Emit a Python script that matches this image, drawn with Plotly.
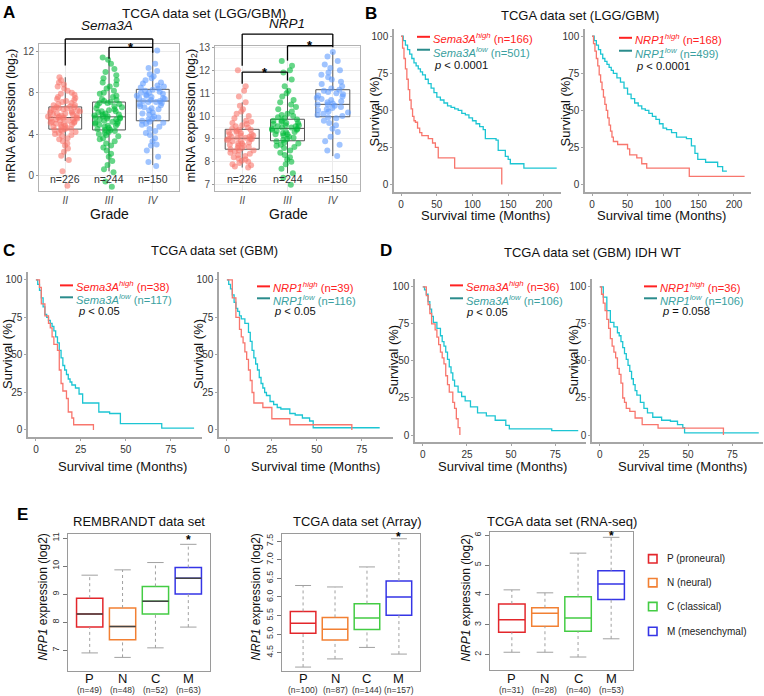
import plotly.graph_objects as go

W, H = 764, 696
FONT = "Liberation Sans, Arial, sans-serif"

# ---------------- panel A: expression by grade ----------------
grades = ["II", "III", "IV"]
grade_n = [226, 244, 150]
grade_colors = ["#f8766d", "#00ba38", "#619cff"]

sema_ii = [-1.0, 0.4, 1.5, 1.9, 2.3, 2.6, 2.9, 3.1, 3.3, 3.5, 3.6, 3.8, 3.9, 4.0, 4.1, 4.2,
           4.3, 4.4, 4.4, 4.5, 4.5, 4.6, 4.7, 4.7, 4.8, 4.9, 4.9, 5.0, 5.0, 5.1, 5.1, 5.2,
           5.2, 5.3, 5.3, 5.4, 5.4, 5.5, 5.5, 5.5, 5.6, 5.6, 5.6, 5.7, 5.7, 5.8, 5.8, 5.9,
           5.9, 6.0, 6.0, 6.1, 6.1, 6.2, 6.2, 6.3, 6.3, 6.4, 6.4, 6.5, 6.5, 6.6, 6.6, 6.7,
           6.8, 6.8, 6.9, 7.0, 7.1, 7.2, 7.3, 7.4, 7.5, 7.6, 7.8, 7.9, 8.0, 8.2, 8.4, 8.6,
           8.8, 9.0, 9.2, 9.5]
sema_iii = [-1.1, -0.6, 0.3, 0.6, 1.0, 1.4, 1.8, 2.1, 2.4, 2.7, 2.9, 3.1, 3.3, 3.5, 3.6,
            3.8, 3.9, 4.0, 4.1, 4.2, 4.3, 4.4, 4.4, 4.5, 4.6, 4.7, 4.8, 4.8, 4.9, 5.0, 5.0,
            5.1, 5.2, 5.2, 5.3, 5.4, 5.4, 5.5, 5.5, 5.6, 5.6, 5.7, 5.7, 5.8, 5.9, 5.9, 6.0,
            6.1, 6.2, 6.2, 6.3, 6.4, 6.5, 6.6, 6.7, 6.8, 6.9, 7.0, 7.0, 7.1, 7.2, 7.3, 7.4,
            7.6, 7.7, 7.9, 8.0, 8.2, 8.4, 8.6, 8.8, 9.0, 9.2, 9.4, 9.7, 10.0, 10.3, 10.8,
            11.2, 11.4]
sema_iv = [0.9, 1.3, 1.8, 2.4, 2.9, 3.0, 3.3, 3.6, 3.9, 4.1, 4.3, 4.5, 4.7, 4.9, 5.0, 5.1,
           5.2, 5.3, 5.4, 5.5, 5.6, 5.7, 5.9, 6.0, 6.1, 6.3, 6.4, 6.5, 6.6, 6.7, 6.8, 6.9,
           7.0, 7.1, 7.1, 7.2, 7.2, 7.3, 7.4, 7.5, 7.5, 7.6, 7.7, 7.7, 7.8, 7.9, 8.0, 8.0,
           8.1, 8.2, 8.3, 8.4, 8.5, 8.6, 8.7, 8.9, 9.0, 9.2, 9.4, 9.6, 9.8, 10.1, 10.4,
           10.8, 12.1]
sema_q1 = [4.48, 4.40, 5.29]
sema_med = [5.60, 5.67, 7.20]
sema_q3 = [6.63, 7.10, 8.33]
sema_lo = [1.4, 0.4, 1.0]
sema_hi = [9.5, 11.2, 12.1]

nrp1_ii = [7.75, 7.8, 7.85, 7.9, 7.95, 8.0, 8.05, 8.1, 8.15, 8.2, 8.25, 8.3, 8.35, 8.4,
           8.45, 8.5, 8.5, 8.55, 8.6, 8.6, 8.65, 8.7, 8.7, 8.75, 8.8, 8.8, 8.85, 8.9, 8.9,
           8.95, 9.0, 9.0, 9.0, 9.05, 9.05, 9.1, 9.1, 9.15, 9.15, 9.2, 9.2, 9.25, 9.3, 9.3,
           9.35, 9.4, 9.4, 9.45, 9.5, 9.55, 9.6, 9.65, 9.7, 9.75, 9.8, 9.9, 10.0, 10.1,
           10.2, 10.3, 10.45, 10.6, 10.85, 11.1, 11.3, 12.0]
nrp1_iii = [7.0, 7.3, 7.5, 7.7, 7.9, 8.0, 8.1, 8.2, 8.3, 8.4, 8.5, 8.6, 8.65, 8.7, 8.75,
            8.8, 8.85, 8.9, 8.95, 9.0, 9.05, 9.1, 9.15, 9.2, 9.2, 9.25, 9.3, 9.3, 9.35, 9.4,
            9.4, 9.45, 9.45, 9.5, 9.5, 9.55, 9.55, 9.6, 9.6, 9.65, 9.7, 9.7, 9.75, 9.8,
            9.8, 9.85, 9.9, 9.95, 10.0, 10.05, 10.1, 10.2, 10.3, 10.4, 10.5, 10.6, 10.7,
            10.85, 11.0, 11.1, 11.3, 11.6, 11.9, 12.0, 12.2, 12.4]
nrp1_iv = [8.25, 8.5, 8.75, 8.9, 9.1, 9.3, 9.45, 9.6, 9.7, 9.8, 9.9, 9.95, 10.0, 10.05,
           10.1, 10.15, 10.2, 10.25, 10.3, 10.35, 10.4, 10.45, 10.5, 10.5, 10.55, 10.6,
           10.65, 10.7, 10.75, 10.8, 10.85, 10.9, 10.95, 11.0, 11.05, 11.1, 11.15, 11.2,
           11.3, 11.4, 11.5, 11.6, 11.7, 11.8, 11.9, 12.0, 12.1, 12.25, 12.4, 12.6, 12.8]
nrp1_q1 = [8.55, 8.92, 9.97]
nrp1_med = [9.03, 9.46, 10.51]
nrp1_q3 = [9.42, 9.86, 11.15]
nrp1_lo = [7.75, 7.5, 8.25]
nrp1_hi = [10.6, 11.2, 12.8]

# ---------------- panels B-D: Kaplan-Meier steps ----------------
b_sema_high_t = [0, 2, 4, 6, 8, 10, 12, 14, 16, 18, 20, 23, 26, 29, 38, 44, 48, 52, 75, 141]
b_sema_high_s = [100, 92, 85, 78, 71, 64, 57, 51, 46, 43, 42, 38, 35, 33, 31, 28, 25, 18, 11, 0]
b_sema_low_t = [0, 3, 6, 9, 12, 15, 18, 21, 24, 27, 30, 34, 38, 42, 46, 50, 55, 60, 65, 70,
                75, 80, 85, 90, 95, 100, 105, 110, 115, 118, 133, 136, 146, 150, 153, 172, 218]
b_sema_low_s = [100, 97, 94, 91, 88, 85, 82, 80, 78, 76, 74, 71, 68, 65, 62, 59, 57, 55, 53, 52,
                51, 50, 48, 47, 45, 43, 41, 39, 37, 31, 30, 23, 19, 17, 14, 11, 11]
b_nrp1_high_t = [0, 2, 4, 6, 8, 10, 12, 14, 16, 18, 20, 22, 24, 26, 28, 30, 36, 50, 53, 63, 70,
                 77, 137, 215]
b_nrp1_high_s = [100, 95, 90, 85, 80, 74, 69, 64, 59, 54, 50, 45, 40, 36, 32, 29, 27, 24, 20, 18,
                 14, 11, 5.5, 5.5]
b_nrp1_low_t = [0, 3, 6, 9, 12, 15, 18, 21, 24, 27, 30, 35, 40, 45, 50, 55, 60, 65, 70, 75, 80,
                85, 90, 95, 100, 105, 112, 119, 133, 140, 145, 149, 160, 177, 184, 190]
b_nrp1_low_s = [100, 97, 94, 91, 88, 85, 83, 81, 79, 77, 75, 72, 69, 65, 61, 58, 55, 53, 51, 50,
                48, 46, 44, 41, 38, 37, 35, 32, 31, 26, 21, 17, 15, 12, 9, 9]

c_sema_high_t = [0, 2, 3, 5, 7, 8, 9, 10, 12, 13, 14, 15, 17, 18, 20, 21, 32]
c_sema_high_s = [100, 95, 84, 76, 71, 68, 62, 57, 53, 40, 31, 26, 21, 12, 8, 3.5, 0]
c_sema_low_t = [0, 1, 2, 3, 4, 5, 6, 7, 8, 9, 10, 11, 12, 13, 14, 15, 16, 17, 18, 19, 20, 22,
                24, 26, 35, 41, 47, 70, 88]
c_sema_low_s = [100, 97, 93, 88, 82, 77, 75, 73, 71, 69, 66, 62, 58, 53, 48, 43, 40, 37, 34, 32,
                30, 28, 24, 18, 12, 11, 4.2, 1.3, 1.3]
c_nrp1_high_t = [0, 3, 5, 7, 8, 9, 10, 11, 12, 13, 14, 15, 20, 25, 35, 69.5]
c_nrp1_high_s = [100, 88, 75, 67, 62, 58, 52, 47, 40, 33, 25, 18, 15, 7.5, 3.5, 0]
c_nrp1_low_t = [0, 1, 2, 3, 4, 5, 6, 7, 8, 10, 12, 13, 14, 15, 16, 17, 18, 19, 20, 21, 22, 24,
                26, 28, 30, 35, 38, 42, 46, 48, 85]
c_nrp1_low_s = [100, 97, 94, 90, 85, 81, 79, 76, 74, 71, 65, 59, 53, 48, 44, 40, 35, 31, 28, 25,
                23, 19, 17, 15, 14, 11, 10, 8, 6, 1.5, 1.5]

d_sema_high_t = [0, 2, 3, 4, 5, 7, 8, 9, 10, 11, 12, 13, 14, 15, 17, 18, 19, 20, 21]
d_sema_high_s = [100, 94, 88, 82, 75, 71, 66, 61, 56, 52, 48, 40, 34, 29, 22, 18, 11, 5, 0]
d_sema_low_t = [0, 1, 2, 3, 4, 5, 6, 8, 10, 11, 12, 13, 14, 15, 16, 17, 18, 20, 22, 24, 27, 31,
                36, 41, 47, 49, 73, 88]
d_sema_low_s = [100, 98, 95, 90, 85, 80, 76, 72, 67, 63, 60, 56, 51, 46, 42, 37, 33, 29, 26, 23,
                19, 15, 13, 10, 6.5, 4.2, 3, 3]
d_nrp1_high_t = [0, 1, 2, 3, 4, 5, 6, 7, 8, 9, 10, 11, 12, 13, 14, 15, 17, 20, 24, 33, 70]
d_nrp1_high_s = [100, 95, 89, 84, 78, 72, 65, 60, 56, 52, 45, 41, 35, 25, 22, 18, 16, 11.5, 7,
                 4.7, 0]
d_nrp1_low_t = [0, 2, 4, 6, 8, 10, 11, 12, 13, 14, 15, 16, 17, 18, 19, 20, 21, 23, 25, 27, 30,
                35, 40, 44, 47, 48, 90]
d_nrp1_low_s = [100, 93, 84, 76, 73, 69, 67, 63, 59, 55, 51, 47, 43, 38, 34, 30, 27, 22, 18, 15,
                12, 10, 9.3, 7, 5, 1.5, 1.5]

# ---------------- panel E: subtype box plots ----------------
subtypes = ["P", "N", "C", "M"]
subtype_names = ["P (proneural)", "N (neural)", "C (classical)", "M (mesenchymal)"]
subtype_colors = ["#e3262b", "#f28033", "#44cc44", "#3535e6"]

remb_n = [49, 48, 52, 63]
remb_q1 = [7.83, 7.38, 8.30, 9.01]
remb_med = [8.30, 7.85, 8.75, 9.57]
remb_q3 = [8.86, 8.51, 9.28, 9.95]
remb_lo = [6.91, 6.75, 7.09, 7.83]
remb_hi = [9.68, 9.87, 10.13, 10.78]

arr_n = [100, 87, 144, 157]
arr_q1 = [5.02, 4.84, 5.12, 5.51]
arr_med = [5.29, 5.13, 5.43, 6.00]
arr_q3 = [5.61, 5.45, 5.82, 6.43]
arr_lo = [4.11, 4.33, 4.64, 4.46]
arr_hi = [6.31, 6.27, 6.81, 7.57]

rna_n = [31, 28, 40, 53]
rna_q1 = [2.75, 2.95, 2.78, 3.85]
rna_med = [3.17, 3.39, 3.23, 4.37]
rna_q3 = [3.70, 3.57, 3.94, 4.81]
rna_lo = [2.08, 2.08, 1.92, 2.53]
rna_hi = [4.17, 4.07, 5.40, 5.93]


def xr_(n):
    return "x" if n == 1 else f"x{n}"


def yr_(n):
    return "y" if n == 1 else f"y{n}"


def pxx(v):
    return v / W


def pxy(v):
    return 1 - v / H


fig = go.Figure()
layout_axes = {}


def set_axes(n, xpx, ypx, xrange, yrange, xkw, ykw):
    xname = "xaxis" if n == 1 else f"xaxis{n}"
    yname = "yaxis" if n == 1 else f"yaxis{n}"
    layout_axes[xname] = dict(domain=[pxx(xpx[0]), pxx(xpx[1])], range=xrange,
                              anchor=yr_(n), zeroline=False, **xkw)
    layout_axes[yname] = dict(domain=[pxy(ypx[1]), pxy(ypx[0])], range=yrange,
                              anchor=xr_(n), zeroline=False, **ykw)


annotations = []
shapes = []


def ann(text, x, y, size=12, color="#111", angle=0, xanchor="center", yanchor="middle",
        xref="paper", yref="paper"):
    if xref == "paper":
        x = pxx(x)
    if yref == "paper":
        y = pxy(y)
    annotations.append(dict(text=text, x=x, y=y, xref=xref, yref=yref, showarrow=False,
                            textangle=angle, xanchor=xanchor, yanchor=yanchor,
                            font=dict(size=size, color=color, family=FONT)))


# ---------- panel A ----------
a_xrange = [-0.6, 2.6]
gg_x = dict(tickvals=[0, 1, 2], ticktext=[f"<i>{g}</i>" for g in grades], showgrid=True,
            gridcolor="#ebebeb", showline=True, mirror=True, linecolor="#b3b3b3",
            ticks="", tickfont=dict(size=10, color="#4d4d4d", family=FONT))


def gg_y(dt):
    return dict(dtick=dt, showgrid=True, gridcolor="#ebebeb", showline=True, mirror=True,
                linecolor="#b3b3b3", ticks="outside", ticklen=2, tickcolor="#999",
                minor=dict(dtick=dt / 2, showgrid=True, gridcolor="#f4f4f4"),
                tickfont=dict(size=10, color="#4d4d4d", family=FONT))


def grade_panel(n, pts, q1, med, q3, lo, hi, n_y):
    for k in range(3):
        fig.add_trace(go.Box(x=[k], q1=[q1[k]], median=[med[k]], q3=[q3[k]],
                             lowerfence=[lo[k]], upperfence=[hi[k]], width=0.75,
                             whiskerwidth=0, fillcolor="rgba(0,0,0,0)",
                             line=dict(color="#555", width=1), boxpoints=False,
                             xaxis=xr_(n), yaxis=yr_(n), showlegend=False))
        fig.add_trace(go.Box(x=[k] * len(pts[k]), y=pts[k], boxpoints="all", jitter=1,
                             pointpos=0, width=0.8, fillcolor="rgba(0,0,0,0)",
                             line=dict(width=0, color="rgba(0,0,0,0)"),
                             marker=dict(color=grade_colors[k], size=6, opacity=0.6),
                             xaxis=xr_(n), yaxis=yr_(n), showlegend=False))
        ann(f"n={grade_n[k]}", k, n_y, size=10.5, color="#333", xref=xr_(n), yref=yr_(n))


sema_yrange = [-1.5, 12.74]
nrp1_yrange = [6.73, 13.07]
set_axes(1, (39, 179), (40, 188), a_xrange, sema_yrange, gg_x, gg_y(4))
set_axes(2, (215, 360), (42, 188), a_xrange, nrp1_yrange, gg_x, gg_y(1))
grade_panel(1, [sema_ii, sema_iii, sema_iv], sema_q1, sema_med, sema_q3, sema_lo, sema_hi, -0.3)
grade_panel(2, [nrp1_ii, nrp1_iii, nrp1_iv], nrp1_q1, nrp1_med, nrp1_q3, nrp1_lo, nrp1_hi, 7.27)


def brackets(n, xrange, yrange, items):
    fx = lambda v: (v - xrange[0]) / (xrange[1] - xrange[0])
    fy = lambda v: (v - yrange[0]) / (yrange[1] - yrange[0])
    xref, yref = xr_(n) + " domain", yr_(n) + " domain"
    for a, b, top, la, lb in items:
        for x0, y0, x1, y1 in [(a, la, a, top), (a, top, b, top), (b, top, b, lb)]:
            shapes.append(dict(type="line", xref=xref, yref=yref, x0=fx(x0), y0=fy(y0),
                               x1=fx(x1), y1=fy(y1), line=dict(color="black", width=1.3)))
        ann("<b>*</b>", (a + b) / 2, top, size=13, color="black", xref=xr_(n), yref=yr_(n))


brackets(1, a_xrange, sema_yrange, [(0, 2, 13.2, 10.63, 11.86), (1, 2, 12.4, 11.28, 12.4)])
brackets(2, a_xrange, nrp1_yrange, [(0, 2, 13.58, 12.2, 13.0), (1, 2, 13.07, 12.42, 13.07),
                                    (0, 1, 11.92, 11.41, 11.55)])

ann("<b>A</b>", 1, 9, size=17, color="black", xanchor="left")
ann("TCGA data set (LGG/GBM)", 204, 10, size=13.5)
ann("<i>Sema3A</i>", 107, 22, size=13.5)
ann("<i>NRP1</i>", 287, 20, size=13.5)
ann("Grade", 109, 211, size=14)
ann("Grade", 288, 211, size=14)
ann("mRNA expression (log<sub>2</sub>)", 12, 113, size=12.5, angle=-90)
ann("mRNA expression (log<sub>2</sub>)", 192, 113, size=12.5, angle=-90)

# ---------- panels B-D ----------
RED_CURVE, CYAN_CURVE = "#f8766d", "#1cc5d3"
RED_TXT, TEAL_TXT, TEAL_LINE = "#ff2222", "#3a9fa0", "#2a8c8c"


def km_axes(dt):
    return dict(dtick=dt, showgrid=False, showline=True, linecolor="#a6a6a6", linewidth=1.5,
                ticks="outside", ticklen=2, tickcolor="#a6a6a6",
                tickfont=dict(size=10, color="#333", family=FONT))


def km_panel(n, xpx, ypx, xrange, dt, hi_t, hi_s, lo_t, lo_s):
    set_axes(n, xpx, ypx, xrange, [-5, 105], km_axes(dt), km_axes(25))
    fig.add_trace(go.Scatter(x=lo_t, y=lo_s, mode="lines", line_shape="hv",
                             line=dict(color=CYAN_CURVE, width=1.3), showlegend=False,
                             xaxis=xr_(n), yaxis=yr_(n)))
    fig.add_trace(go.Scatter(x=hi_t, y=hi_s, mode="lines", line_shape="hv",
                             line=dict(color=RED_CURVE, width=1.3), showlegend=False,
                             xaxis=xr_(n), yaxis=yr_(n)))


def km_legend(gene, n_hi, n_lo, ptxt, x0, y0, y1, yp, xp):
    for y, c in [(y0, RED_TXT), (y1, TEAL_LINE)]:
        shapes.append(dict(type="line", xref="paper", yref="paper", x0=pxx(x0), x1=pxx(x0 + 13),
                           y0=pxy(y), y1=pxy(y), line=dict(color=c, width=2)))
    ann(f"<i>{gene}</i><sup><i>high</i></sup> (n={n_hi})", x0 + 13.5, y0 + 1, size=11.2,
        color=RED_TXT, xanchor="left")
    ann(f"<i>{gene}</i><sup><i>low</i></sup> (n={n_lo})", x0 + 13.5, y1 + 2, size=11.2,
        color=TEAL_TXT, xanchor="left")
    ann(ptxt, xp, yp, size=11.2, color="#111", xanchor="left")


b_range = [-10, 224]
cd_range = [-4.4, 92.4]
km_panel(3, (394, 561), (25, 189), b_range, 50, b_sema_high_t, b_sema_high_s, b_sema_low_t, b_sema_low_s)
km_panel(4, (585, 751), (25, 189), b_range, 50, b_nrp1_high_t, b_nrp1_high_s, b_nrp1_low_t, b_nrp1_low_s)
km_panel(5, (28, 202), (270, 436), cd_range, 25, c_sema_high_t, c_sema_high_s, c_sema_low_t, c_sema_low_s)
km_panel(6, (219, 393), (270, 436), cd_range, 25, c_nrp1_high_t, c_nrp1_high_s, c_nrp1_low_t, c_nrp1_low_s)
km_panel(7, (415, 586), (277, 441), cd_range, 25, d_sema_high_t, d_sema_high_s, d_sema_low_t, d_sema_low_s)
km_panel(8, (592, 763), (277, 441), cd_range, 25, d_nrp1_high_t, d_nrp1_high_s, d_nrp1_low_t, d_nrp1_low_s)

km_legend("Sema3A", 166, 501, "<i>p</i> &lt; 0.0001", 417, 33, 46, 61, 432)
km_legend("NRP1", 168, 499, "<i>p</i> &lt; 0.0001", 619, 34, 47, 62, 634)
km_legend("Sema3A", 38, 117, "<i>p</i> &lt; 0.05", 60, 283, 295, 309, 76)
km_legend("NRP1", 39, 116, "<i>p</i> &lt; 0.05", 257, 284, 296, 309, 272)
km_legend("Sema3A", 36, 106, "<i>p</i> &lt; 0.05", 450, 283, 296, 310, 464)
km_legend("NRP1", 36, 106, "<i>p</i> = 0.058", 644, 284, 296, 309, 660)

ann("<b>B</b>", 363, 10, size=17, color="black", xanchor="left")
ann("TCGA data set (LGG/GBM)", 580, 12, size=13)
ann("<b>C</b>", 1, 248, size=17, color="black", xanchor="left")
ann("TCGA data set (GBM)", 214, 248, size=13)
ann("<b>D</b>", 378, 248, size=17, color="black", xanchor="left")
ann("TCGA data set (GBM) IDH WT", 592, 250, size=13)
for x, y in [(374, 108), (565, 108), (8, 352), (199, 352), (394, 358), (574, 358)]:
    ann("Survival (%)", x, y, size=13, angle=-90)
for x, y in [(485, 213), (661, 213), (123, 465), (315, 465), (502, 465), (682, 465)]:
    ann("Survival time (Months)", x, y, size=13)

# ---------- panel E ----------
e_xrange = [0.34, 4.66]
e_x = dict(tickvals=[1, 2, 3, 4], showticklabels=False, showline=True, mirror=True,
           linecolor="#9a9a9a", ticks="", showgrid=False)


def e_y(tv, fmt):
    return dict(tickvals=tv, tickformat=fmt, showline=True, mirror=True, linecolor="#9a9a9a",
                ticks="outside", ticklen=4, tickcolor="#777", tickangle=-90, showgrid=False,
                tickfont=dict(size=9, color="#333", family=FONT))


def subtype_panel(n, q1, med, q3, lo, hi, counts, dark_median):
    xs = [1, 2, 3, 4]
    wx, wy, cx, cy = [], [], [], []
    for k in range(4):
        wx += [xs[k], xs[k], None, xs[k], xs[k], None]
        wy += [q3[k], hi[k], None, lo[k], q1[k], None]
        cx += [xs[k] - 0.25, xs[k] + 0.25, None, xs[k] - 0.25, xs[k] + 0.25, None]
        cy += [hi[k], hi[k], None, lo[k], lo[k], None]
    fig.add_trace(go.Scatter(x=wx, y=wy, mode="lines", line=dict(color="#a0a0a0", width=1, dash="dot"),
                             showlegend=False, xaxis=xr_(n), yaxis=yr_(n)))
    fig.add_trace(go.Scatter(x=cx, y=cy, mode="lines", line=dict(color="#a0a0a0", width=1),
                             showlegend=False, xaxis=xr_(n), yaxis=yr_(n)))
    for k in range(4):
        fig.add_trace(go.Box(x=[xs[k]], q1=[q1[k]], median=[med[k]], q3=[q3[k]],
                             lowerfence=[q1[k]], upperfence=[q3[k]], width=0.8, whiskerwidth=0,
                             fillcolor="white", line=dict(color=subtype_colors[k], width=1.5),
                             boxpoints=False, showlegend=False, xaxis=xr_(n), yaxis=yr_(n)))
        ann(subtypes[k], xs[k], 678, size=13, color="#111", xref=xr_(n))
        ann(f"(n={counts[k]})", xs[k], 690, size=8.5, color="#333", xref=xr_(n))
    if dark_median:
        mx, my = [], []
        for k in range(4):
            mx += [xs[k] - 0.4, xs[k] + 0.4, None]
            my += [med[k], med[k], None]
        fig.add_trace(go.Scatter(x=mx, y=my, mode="lines", line=dict(color="#444", width=1.5),
                                 showlegend=False, xaxis=xr_(n), yaxis=yr_(n)))


set_axes(9, (68, 210), (533, 671), e_xrange, [6.26, 11.15], e_x, e_y([7, 8, 9, 10, 11], ""))
set_axes(10, (282, 420), (533, 671), e_xrange, [4.0, 7.70], e_x,
         e_y([4.5, 5.0, 5.5, 6.0, 6.5, 7.0, 7.5], ".1f"))
set_axes(11, (490, 633), (531, 670), e_xrange, [1.48, 6.11], e_x, e_y([2, 3, 4, 5, 6], ""))
subtype_panel(9, remb_q1, remb_med, remb_q3, remb_lo, remb_hi, remb_n, True)
subtype_panel(10, arr_q1, arr_med, arr_q3, arr_lo, arr_hi, arr_n, False)
subtype_panel(11, rna_q1, rna_med, rna_q3, rna_lo, rna_hi, rna_n, False)

for n, y in [(9, 539), (10, 536), (11, 535)]:
    ann("<b>*</b>", 4, y, size=12, color="black", xref=xr_(n))

ann("<b>E</b>", 15, 513, size=17, color="black", xanchor="left")
ann("REMBRANDT data set", 139, 520, size=13)
ann("TCGA data set (Array)", 357, 520, size=13)
ann("TCGA data set (RNA-seq)", 562, 520, size=13)
for x in [43, 256, 466]:
    ann("<i>NRP1</i> expression (log2)", x, 597, size=12, angle=-90)

for k, y in enumerate([558, 582, 606, 631]):
    shapes.append(dict(type="rect", xref="paper", yref="paper", x0=pxx(648.5), x1=pxx(657),
                       y0=pxy(y + 4.2), y1=pxy(y - 4.2),
                       line=dict(color=subtype_colors[k], width=1.6)))
    ann(subtype_names[k], 665, y, size=10, color="#222", xanchor="left")

fig.update_layout(width=W, height=H, autosize=False, margin=dict(l=0, r=0, t=0, b=0),
                  paper_bgcolor="white", plot_bgcolor="white", showlegend=False,
                  boxmode="overlay", font=dict(family=FONT, color="#222"),
                  annotations=annotations, shapes=shapes, **layout_axes)

# the page's default body margin would push the figure 8px down and right
fig.write_html("out.html", config={"displayModeBar": False},
               post_script="document.body.style.margin = '0';")
